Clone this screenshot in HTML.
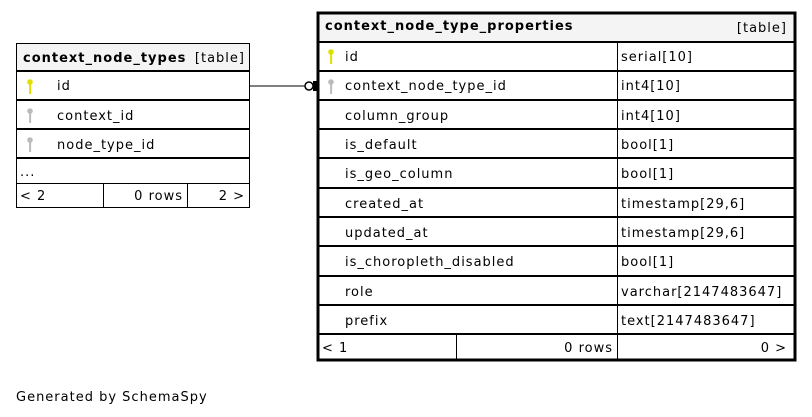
<!DOCTYPE html>
<html><head><style>body{margin:0;background:#fff}svg{display:block}text{font-family:"DejaVu Sans","Liberation Sans",sans-serif;font-size:13px;fill:#000;letter-spacing:1px}</style></head><body>
<svg width="812" height="417" viewBox="0 0 812 417" xmlns="http://www.w3.org/2000/svg">
<defs>
<g id="ky"><circle cx="0" cy="-3" r="2.8" fill="#e0e000"/><rect x="-0.9" y="-1" width="2" height="10" fill="#e0e000"/></g>
<g id="kg"><circle cx="0" cy="-3" r="2.8" fill="#bbb"/><rect x="-0.9" y="-1" width="2" height="10" fill="#bbb"/></g>
</defs>
<rect x="16.5" y="43.5" width="233" height="164" fill="#fff" stroke="#000"/>
<rect x="17" y="44" width="232" height="27" fill="#f4f4f4"/>
<g stroke="#000" stroke-width="2"><line x1="16" y1="71" x2="250" y2="71"/><line x1="16" y1="100" x2="250" y2="100"/><line x1="16" y1="129" x2="250" y2="129"/><line x1="16" y1="158" x2="250" y2="158"/></g>
<g stroke="#000"><line x1="16" y1="183.5" x2="250" y2="183.5"/><line x1="103.5" y1="183" x2="103.5" y2="208"/><line x1="187.5" y1="183" x2="187.5" y2="208"/></g>
<text x="23" y="62" font-weight="bold">context_node_types</text><text x="245" y="62" text-anchor="end">[table]</text>
<use href="#ky" x="30" y="85"/><text x="57" y="90">id</text>
<use href="#kg" x="30" y="114"/><text x="57" y="120">context_id</text>
<use href="#kg" x="30" y="143"/><text x="57" y="149">node_type_id</text>
<text x="20" y="176">...</text>
<text x="20" y="200">&lt; 2</text><text x="183" y="200" text-anchor="end">0 rows</text><text x="245" y="200" text-anchor="end">2 &gt;</text>
<line x1="250" y1="86" x2="305" y2="86" stroke="#000"/>
<circle cx="309" cy="86" r="4" fill="#fff" stroke="#000" stroke-width="1.5"/>
<rect x="313" y="81" width="4" height="10" fill="#000"/>
<rect x="318" y="13" width="477" height="347" fill="#fff" stroke="#000" stroke-width="3"/>
<rect x="319.5" y="14.5" width="474" height="27" fill="#f4f4f4"/>
<g stroke="#000" stroke-width="2">
<line x1="317" y1="42" x2="796" y2="42"/><line x1="317" y1="71" x2="796" y2="71"/><line x1="317" y1="100" x2="796" y2="100"/><line x1="317" y1="129" x2="796" y2="129"/><line x1="317" y1="158" x2="796" y2="158"/><line x1="317" y1="188" x2="796" y2="188"/><line x1="317" y1="217" x2="796" y2="217"/><line x1="317" y1="246" x2="796" y2="246"/><line x1="317" y1="276" x2="796" y2="276"/><line x1="317" y1="305" x2="796" y2="305"/><line x1="317" y1="334" x2="796" y2="334"/>
</g>
<g stroke="#000"><line x1="617.5" y1="42" x2="617.5" y2="361"/><line x1="456.5" y1="334" x2="456.5" y2="361"/></g>
<text x="325" y="30" font-weight="bold">context_node_type_properties</text><text x="787" y="32" text-anchor="end">[table]</text>
<use href="#ky" x="331" y="55"/><text x="345" y="61">id</text><text x="621" y="61">serial[10]</text>
<use href="#kg" x="331" y="85"/><text x="345" y="90">context_node_type_id</text><text x="621" y="90">int4[10]</text>
<text x="345" y="120">column_group</text><text x="621" y="120">int4[10]</text>
<text x="345" y="149">is_default</text><text x="621" y="149">bool[1]</text>
<text x="345" y="178">is_geo_column</text><text x="621" y="178">bool[1]</text>
<text x="345" y="208">created_at</text><text x="621" y="208">timestamp[29,6]</text>
<text x="345" y="237">updated_at</text><text x="621" y="237">timestamp[29,6]</text>
<text x="345" y="266">is_choropleth_disabled</text><text x="621" y="266">bool[1]</text>
<text x="345" y="296">role</text><text x="621" y="296">varchar[2147483647]</text>
<text x="345" y="325">prefix</text><text x="621" y="325">text[2147483647]</text>
<text x="322" y="352">&lt; 1</text><text x="613" y="352" text-anchor="end">0 rows</text><text x="787" y="352" text-anchor="end">0 &gt;</text>
<text x="16" y="401">Generated by SchemaSpy</text>
</svg>
</body></html>
